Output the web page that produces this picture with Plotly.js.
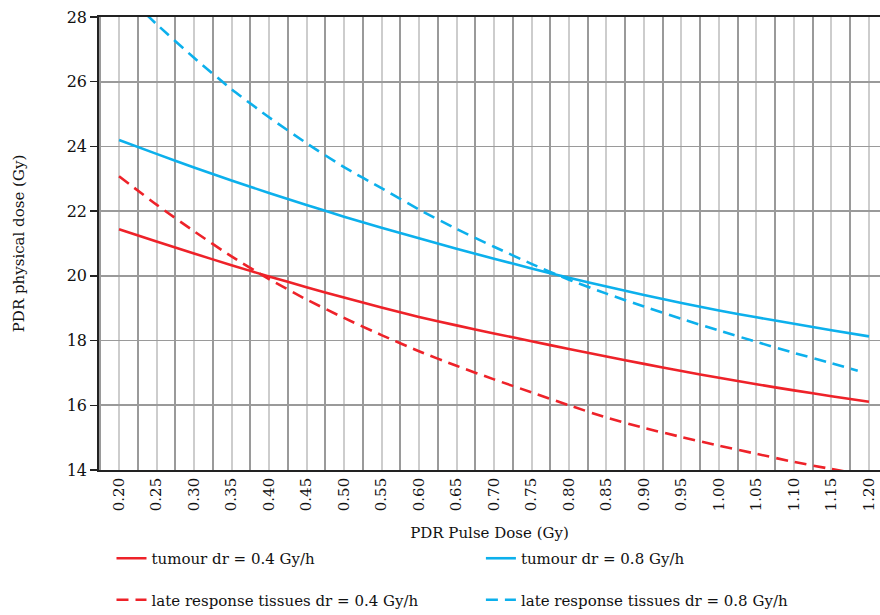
<!DOCTYPE html>
<html>
<head>
<meta charset="utf-8">
<script src="https://cdn.plot.ly/plotly-3.0.1.min.js"></script>
<style>html,body{margin:0;padding:0;background:#fff;}#chart{width:880px;height:615px;}</style>
</head>
<body>
<div id="chart"></div>
<script>
// Pulse dose (Gy)
const pulseDose = [0.20,0.25,0.30,0.35,0.40,0.45,0.50,0.55,0.60,0.65,0.70,0.75,0.80,0.85,0.90,0.95,1.00,1.05,1.10,1.15,1.20];
const pulseDoseLate08 = [0.20,0.25,0.30,0.35,0.40,0.45,0.50,0.55,0.60,0.65,0.70,0.75,0.80,0.85,0.90,0.95,1.00,1.05,1.10,1.15,1.185];
// PDR physical dose (Gy)
const tumour04 = [21.44,21.06,20.69,20.33,19.98,19.65,19.33,19.02,18.73,18.47,18.22,17.98,17.74,17.51,17.28,17.06,16.85,16.65,16.46,16.28,16.11];
const tumour08 = [24.20,23.77,23.35,22.95,22.56,22.19,21.83,21.49,21.16,20.84,20.53,20.23,19.94,19.67,19.41,19.16,18.93,18.72,18.52,18.32,18.13];
const late04 = [23.08,22.20,21.38,20.60,19.90,19.27,18.70,18.17,17.67,17.22,16.80,16.40,16.00,15.62,15.30,15.02,14.75,14.50,14.25,14.03,13.82];
const late08 = [28.90,27.78,26.74,25.77,24.90,24.10,23.36,22.71,22.05,21.45,20.90,20.37,19.88,19.45,19.05,18.67,18.31,17.96,17.62,17.30,17.07];
const names = ["tumour dr = 0.4 Gy/h","tumour dr = 0.8 Gy/h","late response tissues dr = 0.4 Gy/h","late response tissues dr = 0.8 Gy/h"];
const tickVals = [0.20,0.25,0.30,0.35,0.40,0.45,0.50,0.55,0.60,0.65,0.70,0.75,0.80,0.85,0.90,0.95,1.00,1.05,1.10,1.15,1.20];
const yTicks = [14,16,18,20,22,24,26,28];

const RED = '#ee2229', BLUE = '#0cb0ec';
const FONT = 'DejaVu Serif';

const traces = [
  {x: pulseDose, y: tumour04, name: names[0], mode:'lines', line:{color:RED, width:2.6, shape:'spline', smoothing:0.6}, legend:'legend', legendgroup:'a'},
  {x: pulseDose, y: late04, name: names[2], mode:'lines', line:{color:RED, width:2.6, dash:'12px,7px', shape:'spline', smoothing:0.6}, legend:'legend', legendgroup:'b'},
  {x: pulseDose, y: tumour08, name: names[1], mode:'lines', line:{color:BLUE, width:2.6, shape:'spline', smoothing:0.6}, legend:'legend2', legendgroup:'c'},
  {x: pulseDoseLate08, y: late08, name: names[3], mode:'lines', line:{color:BLUE, width:2.6, dash:'12px,7px', shape:'spline', smoothing:0.6}, legend:'legend2', legendgroup:'d'}
];

const legendCommon = {
  orientation:'v', yref:'container', yanchor:'top', xanchor:'left', y:0.1187,
  font:{family:FONT, size:15, color:'#111'}, bgcolor:'rgba(0,0,0,0)',
  traceorder:'grouped', tracegroupgap:19
};

const layout = {
  width:880, height:615,
  margin:{l:99, r:0, t:17, b:145},
  paper_bgcolor:'#fff', plot_bgcolor:'#fff',
  showlegend:true,
  font:{family:FONT, size:15, color:'#111'},
  xaxis:{
    range:[0.1733, 1.2147], automargin:false,
    tickvals:tickVals, tickformat:'.2f', tickangle:-90,
    tickfont:{family:FONT, size:15, color:'#111'},
    ticks:'', showgrid:true, gridcolor:'#cdcdcd', gridwidth:2,
    minor:{dtick:0.05, tick0:0.225, showgrid:true, gridcolor:'#9a9a9a', gridwidth:2, ticks:''},
    showline:true, linecolor:'#222', linewidth:1.8, mirror:true,
    zeroline:false,
    title:{text:'PDR Pulse Dose (Gy)', font:{family:FONT, size:15, color:'#111'}, standoff:17}
  },
  yaxis:{
    range:[14,28], tickvals:yTicks, automargin:false,
    tickfont:{family:FONT, size:16, color:'#111'},
    ticks:'outside', ticklen:7, tickwidth:1.5, tickcolor:'#222',
    showgrid:true, gridcolor:'#9a9a9a', gridwidth:1.8,
    showline:true, linecolor:'#222', linewidth:1.8,
    zeroline:false,
    title:{text:'PDR physical dose (Gy)', font:{family:FONT, size:15, color:'#111'}, standoff:38}
  },
  legend:Object.assign({}, legendCommon, {x:0.016}),
  legend2:Object.assign({}, legendCommon, {x:0.489})
};

Plotly.newPlot('chart', traces, layout, {displayModeBar:false, staticPlot:true});
</script>
</body>
</html>
